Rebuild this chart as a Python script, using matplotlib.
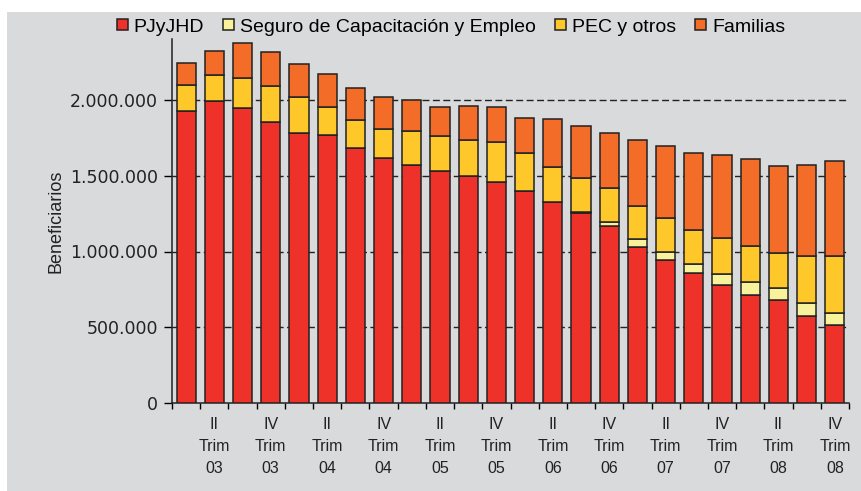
import matplotlib
matplotlib.use("Agg")
import matplotlib.pyplot as plt
from matplotlib.patches import Rectangle
from matplotlib.ticker import FuncFormatter, FixedLocator
import numpy as np

# ---- data (beneficiaries, thousands) ----
quarters = ["I\nTrim\n03", "II\nTrim\n03", "III\nTrim\n03", "IV\nTrim\n03",
            "I\nTrim\n04", "II\nTrim\n04", "III\nTrim\n04", "IV\nTrim\n04",
            "I\nTrim\n05", "II\nTrim\n05", "III\nTrim\n05", "IV\nTrim\n05",
            "I\nTrim\n06", "II\nTrim\n06", "III\nTrim\n06", "IV\nTrim\n06",
            "I\nTrim\n07", "II\nTrim\n07", "III\nTrim\n07", "IV\nTrim\n07",
            "I\nTrim\n08", "II\nTrim\n08", "III\nTrim\n08", "IV\nTrim\n08"]
pjyjhd = [1930, 1993, 1947, 1855, 1784, 1769, 1681, 1615, 1571, 1533, 1498, 1461,
          1399, 1325, 1252, 1168, 1032, 942, 860, 778, 713, 678, 576, 515]
seguro = [0, 0, 0, 0, 0, 0, 0, 0, 0, 0, 0, 0,
          0, 0, 10, 25, 48, 55, 57, 73, 83, 83, 84, 81]
pec = [169, 172, 200, 237, 234, 185, 185, 196, 222, 227, 236, 263,
       253, 235, 225, 224, 222, 226, 225, 238, 238, 227, 312, 376]
familias = [143, 158, 227, 227, 222, 220, 215, 207, 207, 194, 229, 231,
            231, 315, 343, 367, 432, 473, 510, 546, 574, 574, 599, 625]
series_names = ["PJyJHD", "Seguro de Capacitación y Empleo", "PEC y otros", "Familias"]
series_colors = ["#ee3129", "#f8f29a", "#ffc82a", "#f36c28"]
yticks = [0, 500000, 1000000, 1500000, 2000000]

BG = "#d9dadc"
fig = plt.figure(figsize=(8.61, 4.91), dpi=100, facecolor="white")
fig.patches.append(Rectangle((7 / 861, 0), 1 - 7 / 861, 1 - 12 / 491,
                             transform=fig.transFigure, facecolor=BG,
                             edgecolor="none", zorder=-10))
ax = fig.add_axes([172 / 861, 1 - 403 / 491, (849 - 172) / 861, (403 - 39.4) / 491])
ax.set_facecolor(BG)

x = np.arange(len(quarters))
data = [np.array(s, dtype=float) * 1000 for s in (pjyjhd, seguro, pec, familias)]
bottom = np.zeros(len(quarters))
handles = []
for vals, name, col in zip(data, series_names, series_colors):
    b = ax.bar(x, vals, width=0.68, bottom=bottom, color=col, edgecolor="#222222",
               linewidth=1.1, label=name, zorder=3)
    handles.append(b)
    bottom = bottom + vals

ax.set_xlim(-0.5, len(quarters) - 0.5)
ax.set_ylim(0, 2400000)

# gridlines
for yv in yticks[1:]:
    ax.axhline(yv, color="#222222", linewidth=1.0, linestyle=(0, (5, 2.5)), zorder=1)

ax.yaxis.set_major_locator(FixedLocator(yticks))
ax.yaxis.set_major_formatter(FuncFormatter(lambda v, p: f"{int(v):,}".replace(",", ".")))
ax.tick_params(axis="y", direction="out", length=6, width=1, pad=4,
               labelsize=12.5, labelcolor="#222222")
for lab in ax.get_yticklabels():
    lab.set_family("DejaVu Sans")

idx = list(range(1, len(quarters), 2))
ax.set_xticks(idx)
ax.set_xticklabels([quarters[i] for i in idx], fontsize=11.5, family="Liberation Sans",
                   linespacing=1.6, color="#222222")
ax.tick_params(axis="x", which="major", length=0, pad=10)
ax.set_xticks(np.arange(-0.5, len(quarters), 1.0), minor=True)
ax.tick_params(axis="x", which="minor", direction="out", length=4, width=1)

for s in ("top", "right"):
    ax.spines[s].set_visible(False)
for s in ("left", "bottom"):
    ax.spines[s].set_linewidth(1.1)
    ax.spines[s].set_color("#222222")

ax.set_ylabel("Beneficiarios", fontsize=13, family="Liberation Sans", color="#222222",
              labelpad=4)

fig.legend(handles=handles, labels=series_names, loc="center",
           bbox_to_anchor=(451 / 861, 1 - 27 / 491), ncol=4, frameon=False,
           prop={"family": "Liberation Sans", "size": 14}, handlelength=0.55,
           handleheight=0.55, handletextpad=0.3, columnspacing=1.0)

fig.savefig("out.png", dpi=100, facecolor="white")
